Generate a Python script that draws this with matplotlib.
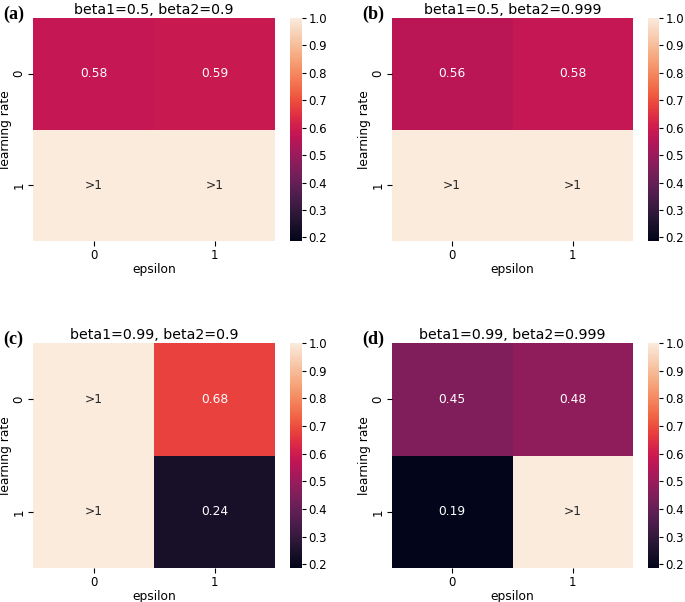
import numpy as np
import matplotlib
matplotlib.use("Agg")
import matplotlib.pyplot as plt
import seaborn as sns

# ---- data (">1" marks values above the colour range) ----
panel_tags = ["(a)", "(b)", "(c)", "(d)"]
panel_titles = ["beta1=0.5, beta2=0.9", "beta1=0.5, beta2=0.999",
                "beta1=0.99, beta2=0.9", "beta1=0.99, beta2=0.999"]
vals_a = [[0.58, 0.59], [">1", ">1"]]
vals_b = [[0.56, 0.58], [">1", ">1"]]
vals_c = [[">1", 0.68], [">1", 0.24]]
vals_d = [[0.45, 0.48], [0.19, ">1"]]
x_ticklabels = ["0", "1"]
y_ticklabels = ["0", "1"]
cbar_ticks = [0.2, 0.3, 0.4, 0.5, 0.6, 0.7, 0.8, 0.9, 1.0]
vmin, vmax = 0.187, 1.0

panels = [vals_a, vals_b, vals_c, vals_d]

W, H = 685, 602
fig = plt.figure(figsize=(W / 100, H / 100), dpi=100)

def fx(px):
    return px / W

def fy(px):
    return 1 - px / H

# pixel boxes: (left, right, top, bottom) for heatmap and colorbar
hm_boxes = [(33, 275, 18, 241), (392, 633, 18, 241),
            (33, 275, 343, 568), (392, 633, 343, 568)]
cb_boxes = [(290, 302), (648, 659), (290, 302), (648, 659)]
tag_pos = [(3, 14), (362, 14), (3, 339), (362, 339)]

for i, vals in enumerate(panels):
    l, r, t, b = hm_boxes[i]
    ax = fig.add_axes([fx(l), fy(b), fx(r - l), (b - t) / H])
    cl, cr = cb_boxes[i]
    cax = fig.add_axes([fx(cl), fy(b), fx(cr - cl), (b - t) / H])
    num = np.array([[vmax if v == ">1" else v for v in row] for row in vals], dtype=float)
    lab = np.array([[">1" if v == ">1" else f"{v:.2f}" for v in row] for row in vals])
    sns.heatmap(num, ax=ax, cbar_ax=cax, cmap="rocket", vmin=vmin, vmax=vmax,
                annot=lab, fmt="", annot_kws={"fontsize": 8.8},
                xticklabels=x_ticklabels, yticklabels=y_ticklabels)
    ax.set_xlabel("epsilon", fontsize=8.8)
    ax.set_ylabel("learning rate", fontsize=8.8)
    ax.xaxis.set_label_coords(0.5, -0.098)
    ax.yaxis.set_label_coords(-0.088, 0.5)
    ax.set_title(panel_titles[i], fontsize=10.2, pad=3)
    ax.tick_params(axis="both", labelsize=8.5, length=3.5, width=0.8, pad=2)
    plt.setp(ax.get_yticklabels(), rotation=90, va="center")
    plt.setp(ax.get_xticklabels(), rotation=0)
    cax.set_yticks(cbar_ticks)
    cax.set_yticklabels([f"{v:.1f}" for v in cbar_ticks])
    cax.tick_params(labelsize=8.5, length=3, width=0.8, pad=1.5)
    tx, ty = tag_pos[i]
    fig.text(fx(tx), fy(ty), panel_tags[i], fontsize=13, fontweight="bold",
             family="Liberation Serif", ha="left", va="center")

fig.savefig("out.png", dpi=100)
